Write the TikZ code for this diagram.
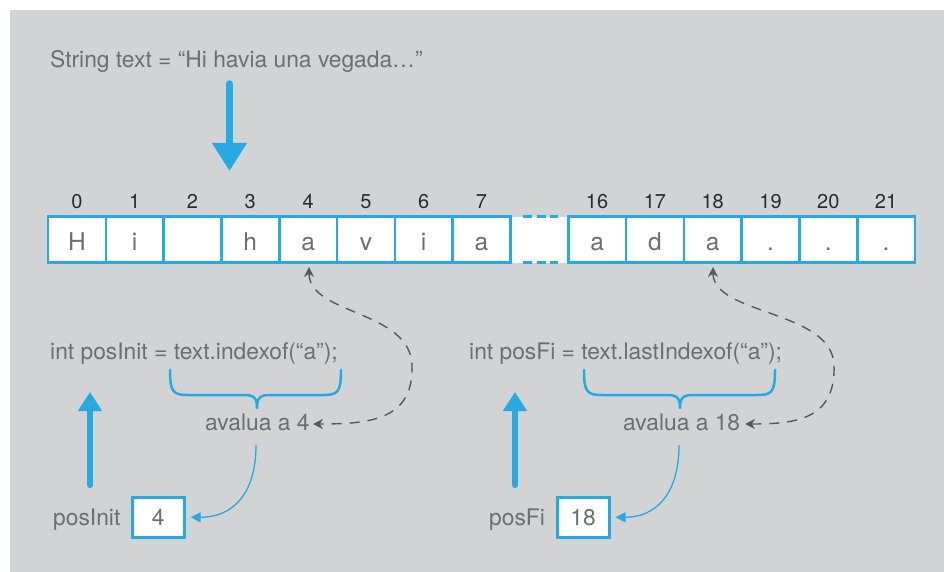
\documentclass[tikz,border=0pt]{standalone}
\usepackage{fontspec}
\setmainfont{TeX Gyre Heros}
\usetikzlibrary{arrows.meta}
\definecolor{bg}{HTML}{D1D3D4}
\definecolor{cblue}{HTML}{27AAE1}
\definecolor{tgray}{HTML}{6D6E71}
\definecolor{dgray}{HTML}{58595B}
\definecolor{idx}{HTML}{2B2B2B}
\newcommand\drawbrace[3]{%
  \draw[brace] (#1,370) .. controls (#1,392) and (#1+3,395) .. (#1+18,395) -- (#2-13,395)
    .. controls (#2-3,395) and (#2,398) .. (#2,408)
    .. controls (#2,398) and (#2+3,395) .. (#2+13,395) -- (#3-18,395)
    .. controls (#3-3,395) and (#3,392) .. (#3,370);}
\begin{document}
\begin{tikzpicture}[x=1pt,y=-1pt,
  txt/.style={font=\fontsize{22.8}{26}\selectfont, text=tgray, inner sep=0pt, anchor=base west},
  cell/.style={draw=cblue, line width=2.6pt, fill=white, minimum width=57.8pt, minimum height=46pt, inner sep=0pt, text height=22pt, text depth=0pt, font=\fontsize{24.5}{28}\selectfont, text=tgray},
  gapcell/.style={cell, draw=none},
  idxlab/.style={font=\fontsize{20}{23}\selectfont, text=idx, inner sep=0pt, anchor=base},
  bigarrow/.style={draw=cblue, line width=7.5pt, line cap=round, -{Triangle[length=28pt,width=33pt]}},
  uparrow/.style={draw=cblue, line width=6pt, line cap=round, -{Triangle[length=19pt,width=23pt]}},
  brace/.style={draw=cblue, line width=2.5pt, line cap=round, line join=round},
  evalarrow/.style={draw=dgray, line width=1.4pt, dash pattern=on 10pt off 8pt, {Stealth[length=10pt,width=10pt]}-{Stealth[length=10pt,width=10pt]}},
  thinarrow/.style={draw=cblue, line width=1.3pt, -{Triangle[length=10pt,width=10pt]}},
  valbox/.style={draw=cblue, line width=3pt, fill=white, minimum width=52pt, minimum height=40pt, inner sep=0pt, font=\fontsize{22.8}{26}\selectfont, text=tgray},
  dashborder/.style={draw=cblue, line width=2.6pt, dash pattern=on 9pt off 4.5pt}
]
\useasboundingbox (0,0) rectangle (944,572);
\fill[white] (0,0) rectangle (944,572);
\fill[bg] (10,10) rectangle (944,572);

% title and big arrow
\node[txt] (title) at (50,68) {String text = “Hi havia una vegada…”};
\coordinate (ba0) at (229.5,84);
\coordinate (ba1) at (229.5,171);
\draw[bigarrow] (ba0) -- (ba1);

% array
\node[gapcell] (c8) at ({48+57.8*8.5},239.7) {};
\draw[dashborder] (523,216.7) -- (558,216.7);
\draw[dashborder] (523,262.7) -- (558,262.7);
\foreach \i/\c in {0/H,1/i,2/{},3/h,4/a,5/v,6/i,7/a,9/a,10/d,11/a,12/.,13/.,14/.}
  \node[cell] (c\i) at ({48+57.8*(\i+0.5)},239.7) {\c};
\foreach \i/\n in {0/0,1/1,2/2,3/3,4/4,5/5,6/6,7/7,9/16,10/17,11/18,12/19,13/20,14/21}
  \node[idxlab] (n\i) at ({48+57.8*(\i+0.5)},208) {\n};

% code lines
\node[txt] (code1) at (50,359) {int posInit = text.indexof(“a”);};
\node[txt] (code2) at (469,359) {int posFi = text.lastIndexof(“a”);};
\drawbrace{170}{257}{341}
\drawbrace{584}{680}{775}

\node[txt] (av1) at (205,430) {avalua a 4};
\node[txt] (av2) at (623,430) {avalua a 18};

% dashed evaluation arrows
\coordinate (e1a) at (309,267);
\coordinate (e1b) at (313,424);
\coordinate (e2a) at (713,267);
\coordinate (e2b) at (745,424);
\draw[evalarrow] (e1a) .. controls (309,315) and (410,310) .. (412,365)
   .. controls (414,420) and (370,424) .. (e1b);
\draw[evalarrow] (e2a) .. controls (713,315) and (832,310) .. (834,365)
   .. controls (836,420) and (795,424) .. (e2b);

% value boxes
\node[valbox] (b1) at (158.2,517.3) {4};
\node[valbox] (b2) at (583,517.3) {18};
\node[txt] (pl1) at (53,525) {posInit};
\node[txt] (pl2) at (489,525) {posFi};

\coordinate (t1) at (256,445);
\coordinate (t2) at (679,445);
\draw[thinarrow] (t1) .. controls (256,495) and (232,517.3) .. ([xshift=5pt]b1.east);
\draw[thinarrow] (t2) .. controls (679,495) and (655,517.3) .. ([xshift=5pt]b2.east);

% up arrows
\coordinate (u1a) at (90,485);
\coordinate (u1b) at (90,392);
\coordinate (u2a) at (515,485);
\coordinate (u2b) at (515,392);
\draw[uparrow] (u1a) -- (u1b);
\draw[uparrow] (u2a) -- (u2b);
\end{tikzpicture}
\end{document}
